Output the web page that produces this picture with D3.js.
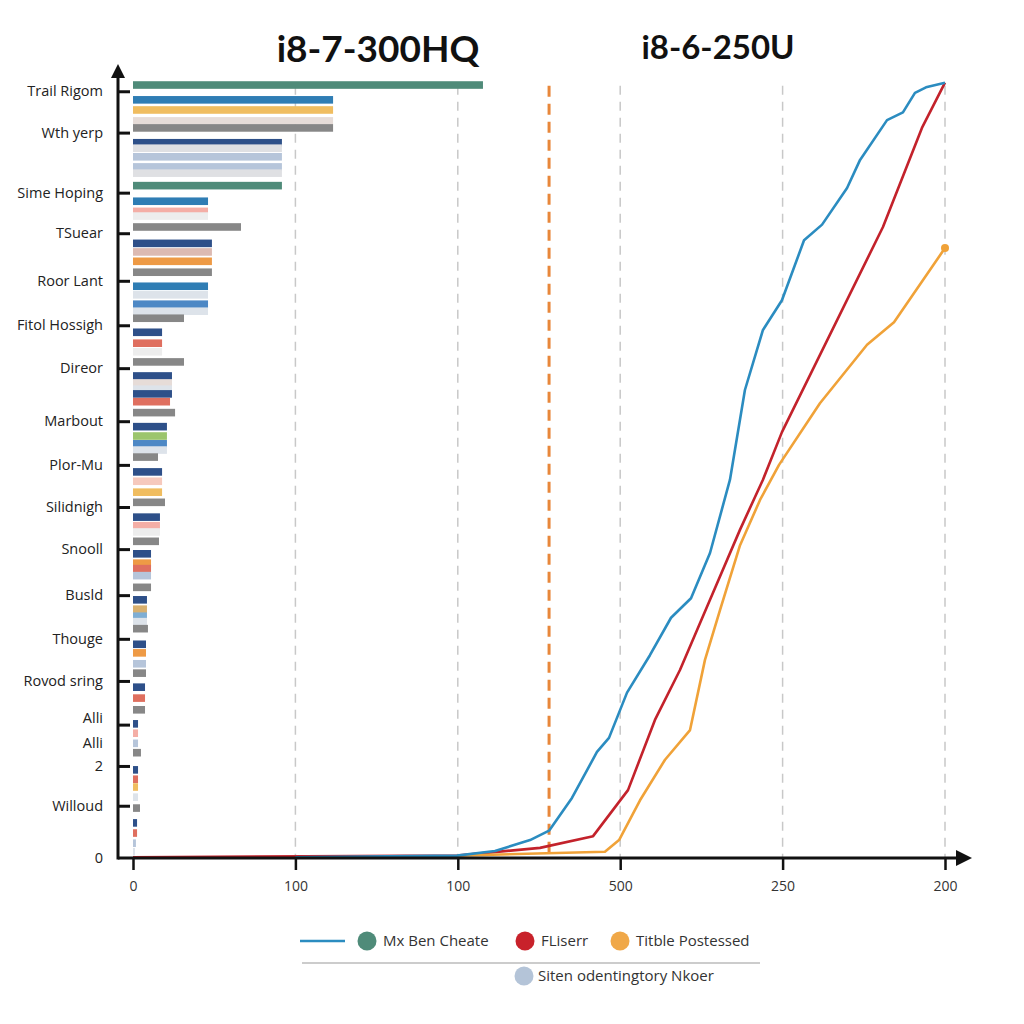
<!DOCTYPE html>
<html><head><meta charset="utf-8">
<script src="https://cdn.jsdelivr.net/npm/d3@7"></script>
<style>body{margin:0;background:#fff}svg{display:block}</style>
</head><body>
<svg id="c" width="1024" height="1024"></svg>
<script>
// ---------- DATA ----------
const titles = ["i8-7-300HQ", "i8-6-250U"];
const yTickValues = [98.3, 93.0, 85.3, 80.1, 74.0, 68.3, 62.8, 56.0, 50.4, 45.0, 39.6, 33.7, 28.1, 22.7, 17.1, 11.8, 6.7, 0];
const yTickLabels = ["Trail Rigom", "Wth yerp", "Sime Hoping", "TSuear", "Roor Lant", "Fitol Hossigh", "Direor", "Marbout", "Plor-Mu", "Silidnigh", "Snooll", "Busld", "Thouge", "Rovod sring", "Alli", "2", "Willoud", "0"];
const extraLabels = [{v: 15.0, t: "Alli"}];
const xTickValues = [0, 100, 200, 300, 400, 500];
const xTickLabels = ["0", "100", "100", "500", "250", "200"];

const barSeries = ["green","blue","gold","beige","gray","navy","lightgray","steel","steel","lightgray","green",
 "blue","pink","faint","gray","navy","beigepink","orange","gray","blue","light","midblue","light","gray",
 "navy","salmon","faint","gray","navy","beige","light","navy","salmon","gray","navy","lightgreen","midblue","light","gray",
 "navy","lightpink","gold","gray","navy","pink","faint","gray","navy","orange","salmon","steel","gray",
 "navy","tan","skyblue","light","gray","navy","orange","steel","gray","navy","salmon","gray",
 "navy","pink","steel","gray","navy","salmon","gold","light","gray","navy","salmon","steel","light"];
const barPositions = [99.1,97.2,95.9,94.5,93.6,91.7,91.0,89.9,88.6,87.8,86.2,
 84.2,82.9,82.3,80.9,78.8,77.7,76.5,75.1,73.3,72.2,71.0,70.1,69.2,
 67.4,66.0,64.9,63.6,61.8,60.9,60.1,59.5,58.5,57.1,55.3,54.1,53.1,52.3,51.4,
 49.5,48.3,46.9,45.6,43.7,42.6,41.8,40.6,39.0,37.8,37.1,36.2,34.7,
 33.1,31.9,31.0,30.3,29.4,27.4,26.3,24.9,23.7,21.9,20.5,19.0,
 17.2,16.0,14.7,13.5,11.3,10.1,9.1,7.8,6.4,4.5,3.2,1.9,0.8];
const barValues = [215.5,123.2,123.2,123.2,123.2,91.7,91.7,91.7,91.7,91.7,91.7,
 46.2,46.2,46.2,66.5,48.6,48.6,48.6,48.6,46.2,46.2,46.2,46.2,31.4,
 17.9,17.9,17.9,31.4,24.0,24.0,24.0,24.0,22.8,25.9,20.9,20.9,20.9,20.9,15.4,
 17.9,17.9,17.9,19.7,16.6,16.6,16.6,16.0,11.1,11.1,11.1,11.1,11.1,
 8.6,8.6,8.6,8.6,9.2,8.0,8.0,8.0,8.0,7.4,7.4,7.4,
 3.1,3.1,3.1,4.9,3.1,3.1,3.1,3.1,4.3,2.5,2.5,1.8,1.2];

const blueX = [100,199.5,222.9,244.5,256.2,270.3,285.7,293.1,304.2,318.3,331.3,343.6,355.3,367.6,376.8,387.9,399.6,413.2,424.3,439.7,447.7,464.3,474.1,481.5,488.3,500];
const blueY = [0.1,0.3,0.9,2.3,3.5,7.7,13.6,15.4,21.2,26.0,30.8,33.3,39.1,48.5,60.0,67.7,71.5,79.2,81.2,85.9,89.5,94.6,95.6,98.1,98.8,99.4];
const redX = [0,199.5,250.6,283.3,304.8,321.4,336.8,355.3,373.8,387.9,399.6,461.8,485.8,500];
const redY = [0.1,0.3,1.3,2.8,8.7,17.7,24.1,33.1,42.1,48.5,54.6,80.9,93.6,99.4];
const orangeX = [199.5,290.6,299.3,312.2,327.6,343.0,352.2,361.5,373.8,386.1,397.8,423.0,452.0,468.6,500];
const orangeY = [0.3,0.8,2.3,7.4,12.6,16.4,25.4,31.8,40.1,45.9,50.4,58.3,65.8,68.7,78.2];
const markerX = 256.2;

const legendRow1 = ["Mx Ben Cheate", "FLiserr", "Titble Postessed"];
const legendRow2 = ["Siten odentingtory Nkoer"];

// ---------- STYLES ----------
const barColors = {green:"#4f8b79", blue:"#2f7db4", gold:"#f0bd60", beige:"#e6dcd8", gray:"#878787",
  navy:"#2e5089", lightgray:"#dfe0e3", steel:"#b6c5da", pink:"#f4aea6", faint:"#ededed", beigepink:"#dcbab2",
  orange:"#ee9a45", midblue:"#4d88c5", light:"#dde3ea", salmon:"#df6f5f", lightpink:"#f6c9bd",
  lightgreen:"#9cc56d", skyblue:"#7eaed4", tan:"#d8b06f"};
const lineColors = {blue:"#2b8cc0", red:"#c3222b", orange:"#f0a238"};
const legendDotColors = ["#4f8b79", "#c8222b", "#f0a848"];

// ---------- CHART ----------
const svg = d3.select("#c");
const x = d3.scaleLinear().domain([0, 500]).range([133, 945]);
const y = d3.scaleLinear().domain([0, 100]).range([858, 78]);
const axisX0 = 118;

// titles
svg.append("text").attr("x", 378).attr("y", 62).attr("text-anchor", "middle")
  .attr("font-family", "Lato, 'Open Sans', sans-serif").attr("font-weight", 700).attr("font-size", 37)
  .attr("fill", "#111").text(titles[0]);
svg.append("text").attr("x", 718).attr("y", 59).attr("text-anchor", "middle")
  .attr("font-family", "Lato, 'Open Sans', sans-serif").attr("font-weight", 700).attr("font-size", 33)
  .attr("fill", "#111").text(titles[1]);

// grid lines
svg.append("g").selectAll("line").data(xTickValues.slice(1)).join("line")
  .attr("x1", d => x(d)).attr("x2", d => x(d)).attr("y1", y(99)).attr("y2", y(0))
  .attr("stroke", "#c8c8c8").attr("stroke-width", 1.5).attr("stroke-dasharray", "9,7");

// marker dashed line
svg.append("line").attr("x1", x(markerX)).attr("x2", x(markerX)).attr("y1", y(99)).attr("y2", y(0))
  .attr("stroke", "#e8873a").attr("stroke-width", 3).attr("stroke-dasharray", "11,7");

// bars
const bars = barValues.map((v, i) => ({v, p: barPositions[i], s: barSeries[i]}));
svg.append("g").selectAll("rect").data(bars).join("rect")
  .attr("x", x(0)).attr("y", d => y(d.p) - 3.8).attr("height", 7.6)
  .attr("width", d => x(d.v) - x(0)).attr("fill", d => barColors[d.s]);

// lines
const line = d3.line().x(d => x(d[0])).y(d => y(d[1]));
const series = [
  {c: lineColors.red, pts: d3.zip(redX, redY)},
  {c: lineColors.orange, pts: d3.zip(orangeX, orangeY)},
  {c: lineColors.blue, pts: d3.zip(blueX, blueY)}
];
svg.append("g").selectAll("path").data(series).join("path")
  .attr("d", d => line(d.pts)).attr("fill", "none").attr("stroke", d => d.c)
  .attr("stroke-width", 2.6).attr("stroke-linejoin", "round");
svg.append("circle").attr("cx", x(orangeX[orangeX.length-1])).attr("cy", y(orangeY[orangeY.length-1]))
  .attr("r", 4).attr("fill", lineColors.orange);

// x axis
const gx = svg.append("g").attr("transform", `translate(0,${y(0)})`)
  .call(d3.axisBottom(x).tickValues(xTickValues).tickFormat((d, i) => xTickLabels[i]).tickSize(12).tickPadding(11));
gx.select(".domain").remove();
gx.selectAll(".tick line").attr("stroke", "#111").attr("stroke-width", 2.5);
gx.selectAll(".tick text").attr("font-family", "'Open Sans', sans-serif").attr("font-size", 14).attr("fill", "#333");

// y axis
const gy = svg.append("g").attr("transform", `translate(${axisX0},0)`)
  .call(d3.axisLeft(y).tickValues(yTickValues).tickFormat((d, i) => yTickLabels[i]).tickSize(-12).tickPadding(15));
gy.select(".domain").remove();
gy.selectAll(".tick line").attr("stroke", "#111").attr("stroke-width", 3);
gy.selectAll(".tick text").attr("font-family", "'Open Sans', sans-serif").attr("font-size", 14.5).attr("fill", "#222");
gy.selectAll(".tick").filter(d => d === 0).select("line").remove();
gy.selectAll(".tick").filter((d, i) => yTickLabels[i] === "Alli").select("text").attr("dy", "-0.15em");
svg.append("g").selectAll("text").data(extraLabels).join("text")
  .attr("x", axisX0 - 15).attr("y", d => y(d.v)).attr("dy", "0.45em").attr("text-anchor", "end")
  .attr("font-family", "'Open Sans', sans-serif").attr("font-size", 14.5).attr("fill", "#222").text(d => d.t);

// axis lines with arrows
svg.append("line").attr("x1", axisX0).attr("x2", 962).attr("y1", y(0)).attr("y2", y(0))
  .attr("stroke", "#111").attr("stroke-width", 3);
svg.append("path").attr("d", `M956,${y(0)-8} L972,${y(0)} L956,${y(0)+8} Z`).attr("fill", "#111");
svg.append("line").attr("x1", axisX0).attr("x2", axisX0).attr("y1", y(0)+1.5).attr("y2", 76)
  .attr("stroke", "#111").attr("stroke-width", 3);
svg.append("path").attr("d", `M${axisX0-7},78 L${axisX0},64 L${axisX0+7},78 Z`).attr("fill", "#111");

// legend
const lg = svg.append("g").attr("font-family", "'Open Sans', sans-serif").attr("font-size", 15).attr("fill", "#333");
lg.append("line").attr("x1", 300).attr("x2", 345).attr("y1", 941).attr("y2", 941)
  .attr("stroke", lineColors.blue).attr("stroke-width", 2.5);
const lx = [367, 525, 620];
legendRow1.forEach((t, i) => {
  lg.append("circle").attr("cx", lx[i]).attr("cy", 941).attr("r", 9.5).attr("fill", legendDotColors[i]);
  lg.append("text").attr("x", lx[i] + 16).attr("y", 941).attr("dy", "0.35em").text(t);
});
lg.append("line").attr("x1", 302).attr("x2", 760).attr("y1", 963).attr("y2", 963)
  .attr("stroke", "#999").attr("stroke-width", 1.2);
legendRow2.forEach((t, i) => {
  lg.append("circle").attr("cx", 524).attr("cy", 976).attr("r", 9.5).attr("fill", "#b4c4d8");
  lg.append("text").attr("x", 538).attr("y", 976).attr("dy", "0.35em").text(t);
});
</script>
</body></html>
